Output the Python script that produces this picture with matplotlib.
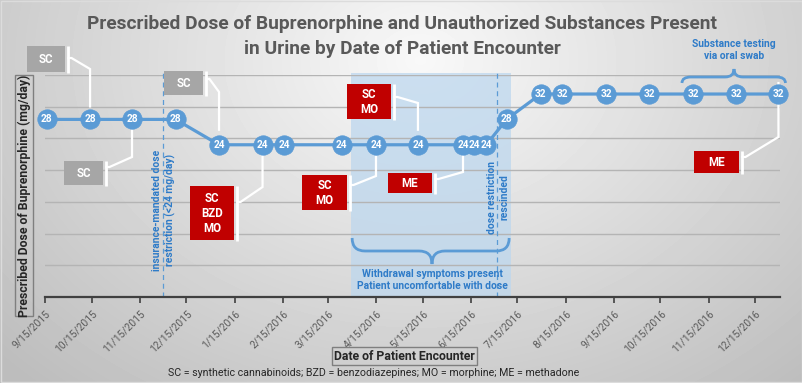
import numpy as np
import matplotlib
matplotlib.use("Agg")
import matplotlib.pyplot as plt
import matplotlib.dates as mdates
from matplotlib.patches import Rectangle, PathPatch
from matplotlib.path import Path
from matplotlib.transforms import Affine2D
import datetime as dt

# ---------------- data ----------------
visit_dates = ["2015-09-16", "2015-10-14", "2015-11-10", "2015-12-08", "2016-01-05",
               "2016-02-02", "2016-02-16", "2016-03-24", "2016-04-15", "2016-05-12",
               "2016-06-10", "2016-06-17", "2016-06-25", "2016-07-08", "2016-07-30",
               "2016-08-13", "2016-09-10", "2016-10-08", "2016-11-05", "2016-12-03",
               "2016-12-30"]
doses = [28, 28, 28, 28, 24, 24, 24, 24, 24, 24, 24, 24, 24, 28, 32, 32, 32, 32, 32, 32, 32]

# substances found (visit index -> label)
finding_index = [1, 2, 4, 5, 8, 9, 10, 20]
finding_label = ["SC", "SC", "SC", "SC\nBZD\nMO", "SC\nMO", "SC\nMO", "ME", "ME"]

tick_dates = ["2015-09-15", "2015-10-15", "2015-11-15", "2015-12-15", "2016-01-15",
              "2016-02-15", "2016-03-15", "2016-04-15", "2016-05-15", "2016-06-15",
              "2016-07-15", "2016-08-15", "2016-09-15", "2016-10-15", "2016-11-15",
              "2016-12-15"]
tick_labels = ["9/15/2015", "10/15/2015", "11/15/2015", "12/15/2015", "1/15/2016",
               "2/15/2016", "3/15/2016", "4/15/2016", "5/15/2016", "6/15/2016",
               "7/15/2016", "8/15/2016", "9/15/2016", "10/15/2016", "11/15/2016",
               "12/15/2016"]

restriction_start = "2015-11-30"
restriction_end = "2016-07-02"
withdrawal_start = "2016-03-30"
withdrawal_end = "2016-07-11"
oral_swab_first_index = 18

title_lines = ["Prescribed Dose of Buprenorphine and Unauthorized Substances Present",
               "in Urine by Date of Patient Encounter"]

# ---------------- style / layout ----------------
plt.rcParams['font.family'] = ['Roboto', 'DejaVu Sans']
BLUE = '#5B9BD5'
TXT_BLUE = '#2E7BC8'
RED = '#C00000'
GRAY_BOX = '#A6A6A6'

W, H = 803, 383
fig = plt.figure(figsize=(W / 100, H / 100), dpi=100)

# background gradient
bg = fig.add_axes([0, 0, 1, 1], zorder=-5)
yy, xx = np.mgrid[0:H, 0:W]
r = np.sqrt(((xx - 420) / 560.0) ** 2 + ((yy - 60) / 430.0) ** 2)
v = np.clip(0.975 - 0.23 * r, 0.74, 1)
bg.imshow(v, cmap='gray', vmin=0, vmax=1, extent=(0, W, H, 0), aspect='auto',
          interpolation='bilinear')
bg.set_xlim(0, W)
bg.set_ylim(H, 0)
bg.axis('off')

# pixel transform (top-left origin)
T = Affine2D().scale(1.0 / W, -1.0 / H).translate(0, 1) + fig.transFigure

ax = fig.add_axes([45 / W, 1 - 297 / H, (780 - 45) / W, (297 - 75) / H])
ax.patch.set_alpha(0)

def d(s):
    return dt.datetime.strptime(s, "%Y-%m-%d")

xd = [d(s) for s in visit_dates]
ax.set_xlim(d("2015-09-15"), d("2016-12-31"))
ax.set_ylim(0, 35)

ax.set_yticks(range(5, 36, 5))
ax.yaxis.grid(True, color='#B4B4B4', lw=1.0, zorder=0)
ax.tick_params(axis='y', length=0, labelleft=False)
for s in ['left', 'right', 'top']:
    ax.spines[s].set_visible(False)
ax.spines['bottom'].set_color('#404040')
ax.spines['bottom'].set_linewidth(1.6)
ax.spines['bottom'].set_zorder(4)

ax.set_xticks([d(s) for s in tick_dates])
ax.set_xticklabels(tick_labels, rotation=45, ha='right', va='top',
                   rotation_mode='anchor', fontsize=7.4, color='#595959')
ax.tick_params(axis='x', length=4, width=1.2, color='#404040', direction='out', pad=4)

# shaded withdrawal period
ax.axvspan(d(withdrawal_start), d(withdrawal_end), ymin=0, ymax=1.01,
           color='#BDD7EE', alpha=0.75, lw=0, zorder=1, clip_on=False)
for s in [restriction_start, restriction_end]:
    ax.axvline(d(s), ymin=0, ymax=1.01, color=BLUE, lw=0.9, ls=(0, (4, 3)),
               zorder=2, clip_on=False)

# line and markers
ax.plot(xd, doses, color=BLUE, lw=2.3, zorder=5, clip_on=False)
ax.plot(xd, doses, 'o', ms=14, mfc=BLUE, mec=BLUE, mew=0.5, zorder=6, clip_on=False)
for x, yv in zip(xd, doses):
    ax.text(x, yv, str(yv), ha='center', va='center', color='white', fontsize=7.3,
            fontweight='bold', zorder=7, clip_on=False)

def to_px(x, yv):
    dx, dy = ax.transData.transform((mdates.date2num(x), yv))
    return dx, H - dy

# callouts: box rect (px), line start y, elbow y, line end offset from point
callout_layout = [
    ((27, 46, 65, 72), 58, 69, -13),
    ((64, 161, 103, 185), 167, 157, 11),
    ((164, 71, 203, 95), 79, 92, -15),
    ((190, 186, 234, 240), 202, 187, 11),
    ((302, 175, 347, 210), 185, 176, 12),
    ((347, 84, 391, 119), 97, 103, -15),
    ((388, 173, 432, 193), 179, 172, 11),
    ((694, 151, 739, 173), 157, 137, -11),
]

for idx, lab, (box, ys, ye, yoff) in zip(finding_index, finding_label, callout_layout):
    x0, y0, x1, y1 = box
    col = GRAY_BOX if lab == "SC" else RED
    ax.add_patch(Rectangle((x0, y0), x1 - x0, y1 - y0, transform=T, facecolor=col,
                           edgecolor='none', zorder=8, clip_on=False))
    ax.text((x0 + x1) / 2, (y0 + y1) / 2 + 0.5, lab, transform=T, ha='center', va='center',
            color='white', fontsize=8.3, fontweight='bold', linespacing=1.25,
            zorder=9, clip_on=False)
    bx = x1 + 3.5
    ax.plot([bx, bx], [y0, y1 + 1], transform=T, color='white', lw=2.0,
            solid_capstyle='butt', zorder=8, clip_on=False)
    px, py = to_px(xd[idx], doses[idx])
    ax.plot([bx, bx + 3, px, px], [ys, ys, ye, py + yoff], transform=T, color='white',
            lw=1.6, zorder=4, clip_on=False, solid_joinstyle='miter')

# braces
def brace(x0, x1, xc, y_end, y_mid, y_tip, r):
    verts = [(x0, y_end), (x0, y_mid), (x0 + r, y_mid), (xc - r, y_mid), (xc, y_mid),
             (xc, y_tip), (xc, y_mid), (xc + r, y_mid), (x1 - r, y_mid), (x1, y_mid),
             (x1, y_end)]
    codes = [Path.MOVETO, Path.CURVE3, Path.CURVE3, Path.LINETO, Path.CURVE3, Path.CURVE3,
             Path.CURVE3, Path.CURVE3, Path.LINETO, Path.CURVE3, Path.CURVE3]
    ax.add_patch(PathPatch(Path(verts, codes), transform=T, facecolor='none',
                           edgecolor=BLUE, lw=2.0, zorder=6, clip_on=False))

wx0, _ = to_px(d(withdrawal_start), 0)
wx1, _ = to_px(d(withdrawal_end), 0)
brace(wx0 + 1, wx1 - 2, 432, 238, 251, 264, 13)
ax.text(432, 280, "Withdrawal symptoms present\nPatient uncomfortable with dose",
        transform=T, ha='center', va='center', color=TXT_BLUE, fontsize=7.4,
        fontweight='bold', linespacing=1.35, zorder=6, clip_on=False)

sx0, _ = to_px(xd[oral_swab_first_index], 0)
sx1, _ = to_px(xd[-1], 0)
brace(sx0 - 11, sx1 + 7, 734, 83, 77, 69, 9)
ax.text(734, 50, "Substance testing\nvia oral swab", transform=T, ha='center',
        va='center', color=TXT_BLUE, fontsize=7.4, fontweight='bold', linespacing=1.35,
        zorder=6, clip_on=False)

rx, _ = to_px(d(restriction_start), 0)
ax.text(rx + 1, 271, "insurance-mandated dose\nrestriction (<24 mg/day)", transform=T,
        rotation=90, ha='center', va='bottom', multialignment='center', color=TXT_BLUE,
        fontsize=7.4, fontweight='bold', linespacing=1.35, zorder=6, clip_on=False)
rx2, _ = to_px(d(restriction_end), 0)
ax.text(rx2 + 1, 234, "dose restriction\nrescinded", transform=T,
        rotation=90, ha='center', va='bottom', multialignment='center', color=TXT_BLUE,
        fontsize=7.4, fontweight='bold', linespacing=1.35, zorder=6, clip_on=False)

# title (two separate lines)
for line, ypix in zip(title_lines, [24, 49]):
    fig.text(402 / W, 1 - ypix / H, line, ha='center', va='center', fontsize=13.8,
             fontweight='bold', color='#595959')

# axis titles in boxes
ax.add_patch(Rectangle((15, 75), 18, 241, transform=T, facecolor='none',
                       edgecolor='#7F7F7F', lw=1.0, clip_on=False, zorder=6))
ax.text(24.5, 195.5, "Prescribed Dose of Buprenorphine (mg/day)", transform=T,
        rotation=90, ha='center', va='center', fontsize=8.8, fontweight='bold',
        color='#262626', clip_on=False, zorder=6)
ax.add_patch(Rectangle((332, 347), 145, 18, transform=T, facecolor='none',
                       edgecolor='#7F7F7F', lw=1.0, clip_on=False, zorder=6))
ax.text(404.5, 356.5, "Date of Patient Encounter", transform=T, ha='center', va='center',
        fontsize=8.8, fontweight='bold', color='#262626', clip_on=False, zorder=6)

fig.text(374 / W, 1 - 373 / H,
         "SC = synthetic cannabinoids; BZD = benzodiazepines; MO = morphine; ME = methadone",
         ha='center', va='center', fontsize=7.7, color='#262626')

# outer border
fig.add_artist(Rectangle((0.5, 0.5), W - 1.5, H - 1.5, transform=T, facecolor='none',
                         edgecolor='#DCDCDC', lw=1.0))

fig.savefig("out.png", dpi=100)
